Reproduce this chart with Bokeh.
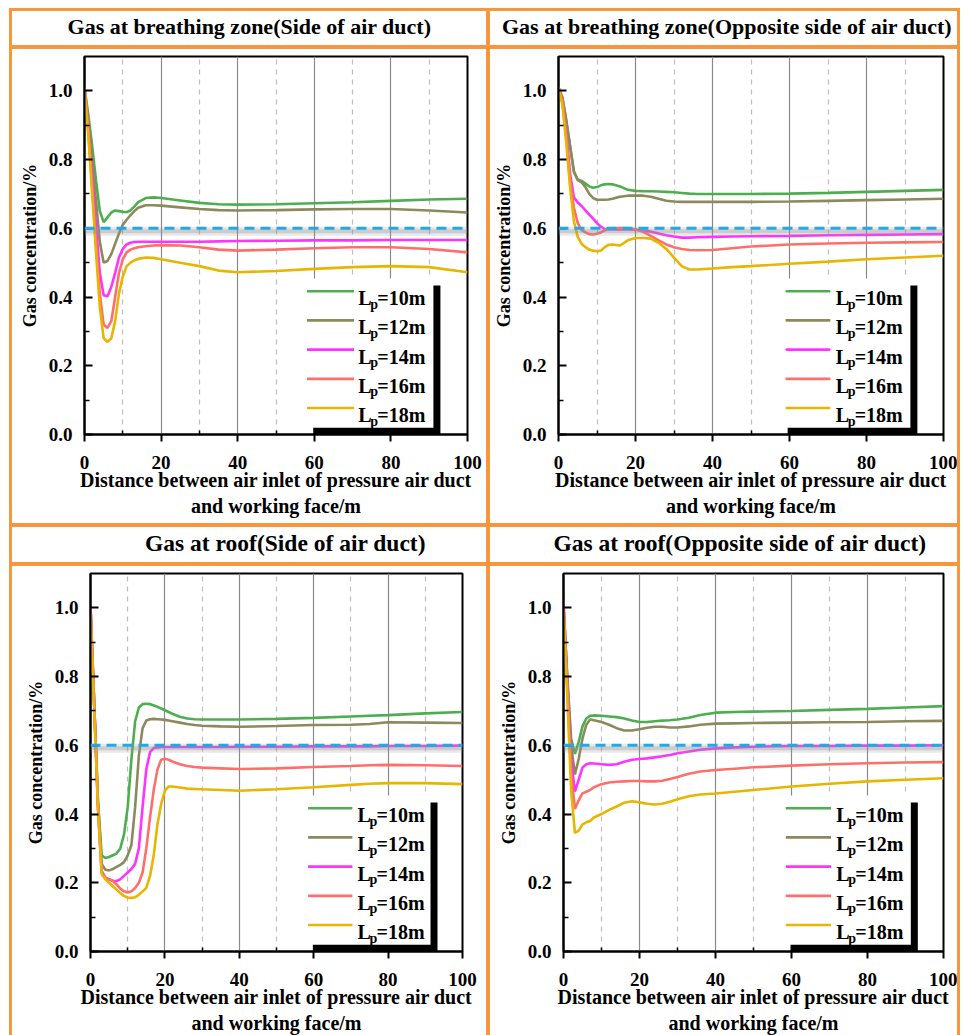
from bokeh.plotting import figure
from bokeh.models import Row, Column, Span, FixedTicker, NumeralTickFormatter, Range1d
from bokeh.embed import file_html
from bokeh.resources import INLINE
from bokeh.core.properties import value

# ---------------- data ----------------
SERIES_LABELS = ["10m", "12m", "14m", "16m", "18m"]
SERIES_COLORS = ["#4DAE4F", "#8C8A5C", "#FF33FF", "#FF6F6A", "#E8B500"]
THRESHOLD = 0.6
X_TICKS = [0, 20, 40, 60, 80, 100]
X_MINOR = [10, 30, 50, 70, 90]
Y_TICKS = [0.0, 0.2, 0.4, 0.6, 0.8, 1.0]
Y_MINOR = [0.1, 0.3, 0.5, 0.7, 0.9]

TITLES = [
    "Gas at breathing zone(Side of air duct)",
    "Gas at breathing zone(Opposite side of air duct)",
    "Gas at roof(Side of air duct)",
    "Gas at roof(Opposite side of air duct)",
]
X_LABEL = "Distance between air inlet of pressure air duct\nand working face/m"
Y_LABEL = "Gas concentration/%"

# Panel 1: breathing zone, side of air duct
p1_x = [0, 1, 2, 3, 4, 5, 6, 7, 8, 9, 10, 11, 12, 13, 14, 16, 18, 20, 25, 30, 35, 40, 50, 60, 70, 80, 90, 100]
p1_lp10 = [1.01, 0.93, 0.84, 0.74, 0.65, 0.618, 0.632, 0.646, 0.652, 0.650, 0.648, 0.647, 0.652, 0.663, 0.676, 0.688, 0.690, 0.688, 0.681, 0.674, 0.670, 0.669, 0.670, 0.673, 0.676, 0.680, 0.684, 0.686]
p1_lp12 = [1.01, 0.91, 0.80, 0.68, 0.56, 0.50, 0.505, 0.525, 0.555, 0.585, 0.610, 0.625, 0.638, 0.650, 0.660, 0.667, 0.667, 0.666, 0.661, 0.656, 0.653, 0.652, 0.653, 0.655, 0.656, 0.656, 0.652, 0.646]
p1_lp14 = [1.01, 0.89, 0.75, 0.61, 0.47, 0.405, 0.402, 0.43, 0.47, 0.515, 0.540, 0.553, 0.558, 0.560, 0.561, 0.561, 0.561, 0.561, 0.561, 0.561, 0.562, 0.563, 0.564, 0.565, 0.565, 0.566, 0.566, 0.566]
p1_lp16 = [1.01, 0.88, 0.72, 0.56, 0.41, 0.32, 0.31, 0.33, 0.40, 0.47, 0.51, 0.53, 0.538, 0.542, 0.545, 0.548, 0.550, 0.551, 0.550, 0.545, 0.538, 0.535, 0.538, 0.542, 0.545, 0.545, 0.540, 0.530]
p1_lp18 = [1.01, 0.87, 0.70, 0.53, 0.37, 0.28, 0.27, 0.28, 0.33, 0.41, 0.46, 0.49, 0.50, 0.507, 0.511, 0.515, 0.514, 0.510, 0.500, 0.490, 0.477, 0.472, 0.476, 0.482, 0.487, 0.490, 0.487, 0.472]

# Panel 2: breathing zone, opposite side of air duct
p2_x = [0, 1, 2, 3, 4, 5, 6, 7, 8, 9, 10, 11, 12, 13, 14, 16, 18, 20, 22, 24, 26, 28, 30, 32, 34, 36, 40, 45, 50, 60, 70, 80, 90, 100]
p2_lp10 = [1.01, 0.98, 0.915, 0.84, 0.765, 0.742, 0.738, 0.730, 0.722, 0.718, 0.720, 0.725, 0.728, 0.729, 0.728, 0.722, 0.712, 0.709, 0.708, 0.708, 0.707, 0.706, 0.705, 0.703, 0.701, 0.700, 0.700, 0.700, 0.700, 0.701, 0.703, 0.706, 0.709, 0.712]
p2_lp12 = [1.01, 0.98, 0.915, 0.84, 0.765, 0.740, 0.734, 0.720, 0.700, 0.688, 0.683, 0.683, 0.683, 0.684, 0.686, 0.692, 0.695, 0.695, 0.695, 0.692, 0.686, 0.680, 0.678, 0.677, 0.677, 0.677, 0.677, 0.677, 0.677, 0.678, 0.680, 0.682, 0.684, 0.686]
p2_lp14 = [1.01, 0.97, 0.88, 0.76, 0.69, 0.675, 0.665, 0.652, 0.640, 0.628, 0.615, 0.605, 0.598, 0.597, 0.597, 0.597, 0.597, 0.596, 0.594, 0.590, 0.585, 0.580, 0.576, 0.573, 0.573, 0.574, 0.575, 0.576, 0.577, 0.578, 0.580, 0.581, 0.582, 0.583]
p2_lp16 = [1.01, 0.97, 0.87, 0.74, 0.66, 0.615, 0.595, 0.588, 0.583, 0.582, 0.584, 0.588, 0.594, 0.598, 0.600, 0.601, 0.600, 0.597, 0.590, 0.578, 0.565, 0.553, 0.545, 0.540, 0.537, 0.536, 0.537, 0.542, 0.547, 0.553, 0.556, 0.558, 0.559, 0.560]
p2_lp18 = [1.01, 0.96, 0.85, 0.72, 0.62, 0.575, 0.555, 0.545, 0.538, 0.535, 0.533, 0.535, 0.545, 0.552, 0.553, 0.550, 0.565, 0.572, 0.572, 0.570, 0.558, 0.540, 0.515, 0.490, 0.480, 0.480, 0.483, 0.487, 0.490, 0.497, 0.503, 0.510, 0.515, 0.520]

# Panel 3: roof, side of air duct
p3_x = [0, 1, 2, 3, 4, 5, 6, 7, 8, 9, 10, 11, 12, 13, 14, 15, 16, 17, 18, 19, 20, 21, 22, 24, 26, 28, 30, 35, 40, 50, 60, 70, 75, 80, 90, 100]
p3_lp10 = [1.00, 0.72, 0.44, 0.280, 0.272, 0.275, 0.280, 0.285, 0.300, 0.340, 0.420, 0.560, 0.670, 0.710, 0.720, 0.721, 0.720, 0.716, 0.712, 0.707, 0.702, 0.697, 0.692, 0.683, 0.678, 0.676, 0.675, 0.675, 0.675, 0.677, 0.680, 0.684, 0.686, 0.688, 0.693, 0.697]
p3_lp12 = [1.00, 0.72, 0.44, 0.255, 0.238, 0.236, 0.240, 0.246, 0.252, 0.260, 0.280, 0.310, 0.420, 0.570, 0.650, 0.672, 0.676, 0.677, 0.676, 0.675, 0.674, 0.672, 0.670, 0.666, 0.662, 0.659, 0.657, 0.655, 0.654, 0.656, 0.659, 0.660, 0.662, 0.667, 0.666, 0.665]
p3_lp14 = [1.01, 0.72, 0.42, 0.235, 0.215, 0.210, 0.206, 0.205, 0.210, 0.220, 0.230, 0.240, 0.255, 0.300, 0.420, 0.530, 0.580, 0.592, 0.594, 0.595, 0.595, 0.595, 0.595, 0.595, 0.595, 0.595, 0.595, 0.595, 0.596, 0.596, 0.597, 0.597, 0.597, 0.598, 0.598, 0.599]
p3_lp16 = [1.00, 0.72, 0.42, 0.230, 0.215, 0.210, 0.205, 0.195, 0.183, 0.175, 0.172, 0.175, 0.185, 0.200, 0.230, 0.300, 0.390, 0.470, 0.530, 0.558, 0.561, 0.558, 0.553, 0.545, 0.540, 0.537, 0.535, 0.533, 0.531, 0.533, 0.537, 0.540, 0.542, 0.543, 0.542, 0.540]
p3_lp18 = [0.98, 0.70, 0.42, 0.225, 0.210, 0.200, 0.190, 0.180, 0.170, 0.162, 0.157, 0.156, 0.158, 0.165, 0.175, 0.185, 0.220, 0.280, 0.370, 0.430, 0.468, 0.480, 0.480, 0.477, 0.474, 0.473, 0.472, 0.470, 0.468, 0.472, 0.478, 0.485, 0.488, 0.490, 0.490, 0.487]

# Panel 4: roof, opposite side of air duct
p4_x = [0, 1, 2, 3, 4, 5, 6, 7, 8, 10, 12, 14, 16, 18, 20, 22, 24, 26, 28, 30, 33, 36, 40, 45, 50, 60, 70, 80, 90, 100]
p4_lp10 = [1.01, 0.80, 0.62, 0.575, 0.610, 0.655, 0.678, 0.686, 0.687, 0.686, 0.684, 0.682, 0.678, 0.672, 0.668, 0.668, 0.670, 0.672, 0.673, 0.675, 0.680, 0.688, 0.695, 0.697, 0.698, 0.700, 0.703, 0.706, 0.710, 0.714]
p4_lp12 = [1.01, 0.79, 0.60, 0.515, 0.560, 0.620, 0.660, 0.675, 0.673, 0.668, 0.660, 0.650, 0.643, 0.643, 0.647, 0.651, 0.654, 0.654, 0.652, 0.652, 0.655, 0.660, 0.663, 0.664, 0.665, 0.666, 0.667, 0.668, 0.670, 0.671]
p4_lp14 = [1.02, 0.78, 0.56, 0.465, 0.500, 0.535, 0.545, 0.548, 0.547, 0.545, 0.543, 0.545, 0.552, 0.558, 0.560, 0.562, 0.565, 0.568, 0.572, 0.577, 0.582, 0.587, 0.591, 0.594, 0.596, 0.598, 0.598, 0.599, 0.599, 0.600]
p4_lp16 = [1.00, 0.76, 0.52, 0.415, 0.440, 0.460, 0.465, 0.470, 0.478, 0.487, 0.492, 0.494, 0.495, 0.496, 0.496, 0.495, 0.495, 0.497, 0.502, 0.508, 0.517, 0.524, 0.528, 0.532, 0.536, 0.541, 0.545, 0.548, 0.550, 0.551]
p4_lp18 = [1.00, 0.74, 0.47, 0.345, 0.352, 0.370, 0.376, 0.380, 0.390, 0.400, 0.412, 0.422, 0.433, 0.437, 0.434, 0.430, 0.428, 0.430, 0.436, 0.443, 0.452, 0.457, 0.460, 0.465, 0.470, 0.480, 0.488, 0.495, 0.500, 0.504]

PANELS = [
    (p1_x, [p1_lp10, p1_lp12, p1_lp14, p1_lp16, p1_lp18]),
    (p2_x, [p2_lp10, p2_lp12, p2_lp14, p2_lp16, p2_lp18]),
    (p3_x, [p3_lp10, p3_lp12, p3_lp14, p3_lp16, p3_lp18]),
    (p4_x, [p4_lp10, p4_lp12, p4_lp14, p4_lp16, p4_lp18]),
]

# ---------------- style / layout ----------------
ORANGE = "#F8963E"
FONT = "Liberation Serif"
X_RANGE = (0, 100)
Y_RANGE = (0, 1.1)
WHITE_HOST = {"background-color": "white"}

# cell sizes, frame borders and title style (pixels); tml shifts the title right by tml/2
LAYOUT = [
    dict(w=474, h=474, ml=72, mr=19, mt=7, mb=89, th=34, tfs="22px", tml=0),
    dict(w=467, h=474, ml=68, mr=14, mt=7, mb=89, th=34, tfs="22px", tml=6),
    dict(w=474, h=470, ml=78, mr=24, mt=7, mb=84, th=35, tfs="23.5px", tml=72),
    dict(w=467, h=470, ml=73, mr=14, mt=7, mb=84, th=35, tfs="23.5px", tml=32),
]
# legend geometry (data units)
LEG = [
    dict(x0=58.1, x1=70.4, tx=71.5, top=0.417, step=0.085, box=(57.9, 91.1, 0.020, 0.454)),
    dict(x0=59.0, x1=70.6, tx=72.0, top=0.417, step=0.085, box=(57.7, 91.4, 0.020, 0.454)),
    dict(x0=58.5, x1=70.4, tx=71.8, top=0.417, step=0.085, box=(57.9, 91.4, 0.020, 0.454)),
    dict(x0=58.5, x1=70.4, tx=71.8, top=0.417, step=0.085, box=(57.9, 91.4, 0.020, 0.454)),
]


def title_cell(text, cfg):
    t = figure(width=cfg["w"], height=cfg["th"], title=text, toolbar_location=None,
               output_backend="svg", x_axis_location=None, y_axis_location=None,
               min_border_left=cfg["tml"], min_border_right=0, min_border_top=4, min_border_bottom=0,
               styles=WHITE_HOST)
    t.grid.visible = False
    t.outline_line_color = None
    t.border_fill_color = "white"
    t.background_fill_color = "white"
    t.title.align = "center"
    t.title.text_font = FONT
    t.title.text_font_style = "bold"
    t.title.text_font_size = cfg["tfs"]
    t.title.text_color = "black"
    t.title.standoff = 0
    t.title.offset = 0
    return t


def panel(x, ys, cfg, leg):
    fw = cfg["w"] - cfg["ml"] - cfg["mr"]
    fh = cfg["h"] - cfg["mt"] - cfg["mb"]
    p = figure(width=cfg["w"], height=cfg["h"], toolbar_location=None, output_backend="svg",
               x_range=Range1d(*X_RANGE), y_range=Range1d(*Y_RANGE),
               min_border_left=cfg["ml"], min_border_right=cfg["mr"],
               min_border_top=cfg["mt"], min_border_bottom=cfg["mb"],
               styles=WHITE_HOST)
    p.border_fill_color = "white"
    p.background_fill_color = "white"
    p.outline_line_color = "black"
    p.outline_line_width = 2
    p.outline_line_alpha = 1

    # axes
    p.xaxis.ticker = FixedTicker(ticks=X_TICKS, minor_ticks=X_MINOR)
    p.yaxis.ticker = FixedTicker(ticks=Y_TICKS, minor_ticks=Y_MINOR)
    p.yaxis.formatter = NumeralTickFormatter(format="0.0")
    for ax in (p.xaxis[0], p.yaxis[0]):
        ax.axis_line_width = 2
        ax.axis_line_color = "black"
        ax.major_tick_line_width = 2
        ax.major_tick_line_color = "black"
        ax.minor_tick_line_width = 1.5
        ax.minor_tick_line_color = "black"
        ax.major_label_text_font = FONT
        ax.major_label_text_font_style = "bold"
        ax.major_label_text_color = "black"
        ax.axis_label_text_font = FONT
        ax.axis_label_text_font_style = "bold"
        ax.axis_label_text_color = "black"
    xa, ya = p.xaxis[0], p.yaxis[0]
    xa.major_tick_out, xa.major_tick_in = 7, 0
    xa.minor_tick_out, xa.minor_tick_in = 0, 4
    xa.major_label_text_font_size = "19px"
    xa.major_label_standoff = 14
    xa.axis_label = X_LABEL
    xa.axis_label_text_font_size = "20px"
    xa.axis_label_standoff = -3
    ya.major_tick_out, ya.major_tick_in = 0, 8
    ya.minor_tick_out, ya.minor_tick_in = 0, 5
    ya.major_label_text_font_size = "19px"
    ya.major_label_standoff = 12
    ya.axis_label = Y_LABEL
    ya.axis_label_text_font_size = "18px"
    ya.axis_label_standoff = 6

    # grid
    p.ygrid.visible = False
    p.xgrid.grid_line_color = "#8A8A8A"
    p.xgrid.grid_line_width = 1.2
    p.xgrid.minor_grid_line_color = "#BEBEBE"
    p.xgrid.minor_grid_line_width = 1.2
    p.xgrid.minor_grid_line_dash = "5 5"

    # legend box with drop shadow
    dx = 7 * (X_RANGE[1] - X_RANGE[0]) / fw
    dy = 7 * (Y_RANGE[1] - Y_RANGE[0]) / fh
    bl, br, bb, bt = leg["box"]
    p.quad(left=[bl + dx], right=[br + dx], bottom=[bb - dy], top=[bt - dy],
           fill_color="black", line_color=None)
    p.quad(left=[bl], right=[br], bottom=[bb], top=[bt], fill_color="white", line_color=None)

    # data lines
    for yv, col in zip(ys, SERIES_COLORS):
        p.line(x, yv, line_color=col, line_width=2.6)

    # threshold line with soft shadow
    sdy = 3 * (Y_RANGE[1] - Y_RANGE[0]) / fh
    p.add_layout(Span(location=THRESHOLD - sdy, dimension="width", line_color="#9A9A9A",
                      line_alpha=0.22, line_width=9))
    p.add_layout(Span(location=THRESHOLD - sdy, dimension="width", line_color="#8A8A8A",
                      line_alpha=0.3, line_width=4))
    p.add_layout(Span(location=THRESHOLD, dimension="width", line_color="#22A8E6",
                      line_width=3, line_dash="10 6"))

    # legend entries
    for i, (lab, col) in enumerate(zip(SERIES_LABELS, SERIES_COLORS)):
        yy = leg["top"] - i * leg["step"]
        p.segment(x0=[leg["x0"]], y0=[yy], x1=[leg["x1"]], y1=[yy], line_color=col, line_width=2.6)
        common = dict(text_font=value(FONT), text_font_style="bold", text_color="black",
                      text_baseline="alphabetic", text_align="left")
        p.text(x=[leg["tx"]], y=[yy], text=["L"], text_font_size="20px", y_offset=7, **common)
        p.text(x=[leg["tx"]], y=[yy], text=["p"], text_font_size="14px", x_offset=12, y_offset=13, **common)
        p.text(x=[leg["tx"]], y=[yy], text=["=" + lab], text_font_size="20px", x_offset=19, y_offset=7, **common)
    return p


figs = []
titles = []
for k in range(4):
    x, ys = PANELS[k]
    figs.append(panel(x, ys, LAYOUT[k], LEG[k]))
    titles.append(title_cell(TITLES[k], LAYOUT[k]))

rows = [Row(children=[titles[0], titles[1]], spacing=4),
        Row(children=[figs[0], figs[1]], spacing=4),
        Row(children=[titles[2], titles[3]], spacing=4),
        Row(children=[figs[2], figs[3]], spacing=4)]
layout = Column(children=rows, spacing=4,
                styles={"background-color": ORANGE, "padding": "3px",
                        "margin-left": "9px", "margin-top": "8px"})

open("out.html", "w").write(file_html(layout, INLINE))
